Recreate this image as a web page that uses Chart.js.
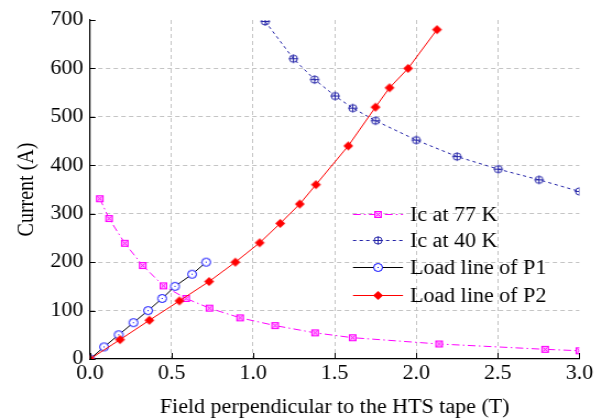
<!DOCTYPE html>
<html>
<head>
<meta charset="utf-8">
<script src="https://cdn.jsdelivr.net/npm/chart.js@4/dist/chart.umd.min.js"></script>
<style>
  html, body { margin: 0; padding: 0; background: #fff; overflow: hidden; }
  #wrap { width: 547px; height: 418px; transform: scaleX(1.1006); transform-origin: 0 0; }
</style>
</head>
<body>
<div id="wrap"><canvas id="grafica"></canvas></div>
<script>
// datos
const campo77 = [0.06, 0.117, 0.213, 0.323, 0.45, 0.589, 0.732, 0.92, 1.135, 1.38, 1.61, 2.14, 2.79, 3.0];
const ic77 = [331, 290, 239, 193, 151, 125, 105, 85, 69, 54, 44, 31, 20, 17];

const campo40 = [1.074, 1.247, 1.377, 1.503, 1.611, 1.75, 2.0, 2.25, 2.503, 2.753, 3.0];
const ic40 = [697, 620, 577, 543, 518, 492, 452, 418, 392, 370, 346];

const campoP1 = [0, 0.086, 0.176, 0.266, 0.356, 0.442, 0.521, 0.626, 0.712];
const corrienteP1 = [0, 25, 50, 75, 100, 125, 150, 175, 200];

const campoP2 = [0, 0.184, 0.364, 0.548, 0.73, 0.891, 1.04, 1.166, 1.286, 1.385, 1.583, 1.75, 1.836, 1.95, 2.127];
const corrienteP2 = [0, 40, 80, 120, 160, 200, 240, 280, 320, 360, 440, 520, 560, 600, 680];

const etiquetas = ["Ic at 77 K", "Ic at 40 K", "Load line of P1", "Load line of P2"];
const ticksX = [0, 0.5, 1.0, 1.5, 2.0, 2.5, 3.0];
const ticksY = [0, 100, 200, 300, 400, 500, 600, 700];

const FUENTE = "'Liberation Serif', 'Times New Roman', serif";
const ESCALA = 1.1006; // la figura original esta estirada en horizontal

function puntos(xs, ys) {
  return xs.map((x, i) => ({ x: x, y: ys[i] }));
}

// marcadores dibujados a mano
function marcador(tipo) {
  const c = document.createElement("canvas");
  c.width = 11; c.height = 11;
  const g = c.getContext("2d");
  g.lineWidth = 1;
  if (tipo === "cuadro") {
    g.strokeStyle = "#ff00ff";
    g.fillStyle = "#ffb0ff";
    g.fillRect(2, 2, 7, 7);
    g.strokeRect(2.5, 2.5, 6, 6);
    g.beginPath();
    g.moveTo(3.5, 3.5); g.lineTo(7.5, 7.5);
    g.moveTo(7.5, 3.5); g.lineTo(3.5, 7.5);
    g.stroke();
  } else if (tipo === "cruz") {
    g.strokeStyle = "#2424a8";
    g.beginPath();
    g.arc(5.5, 5.5, 3.6, 0, Math.PI * 2);
    g.moveTo(1.5, 5.5); g.lineTo(9.5, 5.5);
    g.moveTo(5.5, 1.5); g.lineTo(5.5, 9.5);
    g.stroke();
  } else if (tipo === "circulo") {
    g.strokeStyle = "#0000ff";
    g.fillStyle = "#ffffff";
    g.beginPath();
    g.arc(5.5, 5.5, 4, 0, Math.PI * 2);
    g.fill();
    g.stroke();
    g.fillStyle = "#0000ff";
    g.fillRect(5, 5, 1, 1);
  } else {
    g.fillStyle = "#ff0000";
    g.beginPath();
    g.moveTo(5.5, 1); g.lineTo(10, 5.5); g.lineTo(5.5, 10); g.lineTo(1, 5.5);
    g.closePath();
    g.fill();
  }
  return c;
}

const marcas = [marcador("cuadro"), marcador("cruz"), marcador("circulo"), marcador("rombo")];

// ticks hacia dentro y leyenda sin caja
const extras = {
  id: "extras",
  afterDraw(chart) {
    const ctx = chart.ctx;
    const a = chart.chartArea;
    const xs = chart.scales.x, ys = chart.scales.y;
    ctx.save();
    ctx.strokeStyle = "#000";
    ctx.lineWidth = 1;
    ctx.beginPath();
    xs.ticks.forEach(t => {
      const px = Math.round(xs.getPixelForValue(t.value)) + 0.5;
      ctx.moveTo(px, a.bottom); ctx.lineTo(px, a.bottom - 6);
    });
    ys.ticks.forEach(t => {
      const py = Math.round(ys.getPixelForValue(t.value)) + 0.5;
      ctx.moveTo(a.left, py); ctx.lineTo(a.left + 5, py);
    });
    ctx.stroke();

    // leyenda
    const x0 = a.left + (353 - 90) / ESCALA;
    const x1 = a.left + (403 - 90) / ESCALA;
    const xt = a.left + (410 - 90) / ESCALA;
    const filas = [214, 240, 267, 295];
    ctx.font = "20px " + FUENTE;
    ctx.textBaseline = "middle";
    ctx.fillStyle = "#000";
    chart.data.datasets.forEach((ds, i) => {
      const y = filas[i] + 0.5;
      ctx.strokeStyle = ds.borderColor;
      ctx.setLineDash(ds.borderDash || []);
      ctx.beginPath();
      ctx.moveTo(x0, y); ctx.lineTo(x1, y);
      ctx.stroke();
      ctx.setLineDash([]);
      const m = marcas[i];
      ctx.drawImage(m, Math.round((x0 + x1) / 2 - m.width / 2), Math.round(y - m.height / 2));
      ctx.fillText(ds.label, xt, y + 1);
    });
    ctx.restore();
  }
};

const ctx = document.getElementById("grafica").getContext("2d");

new Chart(ctx, {
  type: "scatter",
  data: {
    datasets: [
      {
        label: etiquetas[0],
        data: puntos(campo77, ic77),
        showLine: true,
        borderColor: "#ff00ff",
        borderWidth: 1,
        borderDash: [7, 3, 1.5, 3],
        pointStyle: marcas[0],
        order: 4
      },
      {
        label: etiquetas[1],
        data: puntos(campo40, ic40),
        showLine: true,
        borderColor: "#2424a8",
        borderWidth: 1,
        borderDash: [3, 3],
        pointStyle: marcas[1],
        order: 3
      },
      {
        label: etiquetas[2],
        data: puntos(campoP1, corrienteP1),
        showLine: true,
        borderColor: "#000000",
        borderWidth: 1,
        pointStyle: marcas[2],
        order: 2
      },
      {
        label: etiquetas[3],
        data: puntos(campoP2, corrienteP2),
        showLine: true,
        borderColor: "#ff0000",
        borderWidth: 1,
        pointStyle: marcas[3],
        order: 1
      }
    ]
  },
  options: {
    responsive: true,
    maintainAspectRatio: false,
    animation: false,
    layout: { padding: { top: 20, right: 20.6, left: 0, bottom: 0 } },
    plugins: {
      legend: { display: false },
      tooltip: { enabled: false }
    },
    scales: {
      x: {
        type: "linear",
        min: 0,
        max: 3,
        afterFit: s => { s.height = 59; },
        afterBuildTicks: s => { s.ticks = ticksX.map(v => ({ value: v })); },
        ticks: {
          color: "#000",
          padding: 3,
          maxRotation: 0,
          font: { family: FUENTE, size: 20 },
          callback: v => Number(v).toFixed(1)
        },
        grid: {
          drawTicks: false,
          color: c => (c.tick && (c.tick.value === 0 || c.tick.value === 3)) ? "rgba(0,0,0,0)" : "#c4c4c4",
          lineWidth: 1
        },
        border: { display: true, color: "#000", width: 1.2, dash: [4, 3] },
        title: {
          display: true,
          text: "Field perpendicular to the HTS tape (T)",
          color: "#000",
          font: { family: FUENTE, size: 20, lineHeight: 1 },
          padding: { top: 0, bottom: 0 }
        }
      },
      y: {
        type: "linear",
        min: 0,
        max: 700,
        afterFit: s => { s.width = 90 / ESCALA; },
        afterBuildTicks: s => { s.ticks = ticksY.map(v => ({ value: v })); },
        ticks: {
          color: "#000",
          padding: 6,
          font: { family: FUENTE, size: 20 }
        },
        grid: {
          drawTicks: false,
          color: c => (c.tick && (c.tick.value === 0 || c.tick.value === 700)) ? "rgba(0,0,0,0)" : "#c4c4c4",
          lineWidth: 1
        },
        border: { display: true, color: "#000", width: 1.2, dash: [4, 3] },
        title: {
          display: true,
          text: "Current (A)",
          color: "#000",
          font: { family: FUENTE, size: 20 },
          padding: { top: 12.5, bottom: 0 }
        }
      }
    }
  },
  plugins: [extras]
});
</script>
</body>
</html>
